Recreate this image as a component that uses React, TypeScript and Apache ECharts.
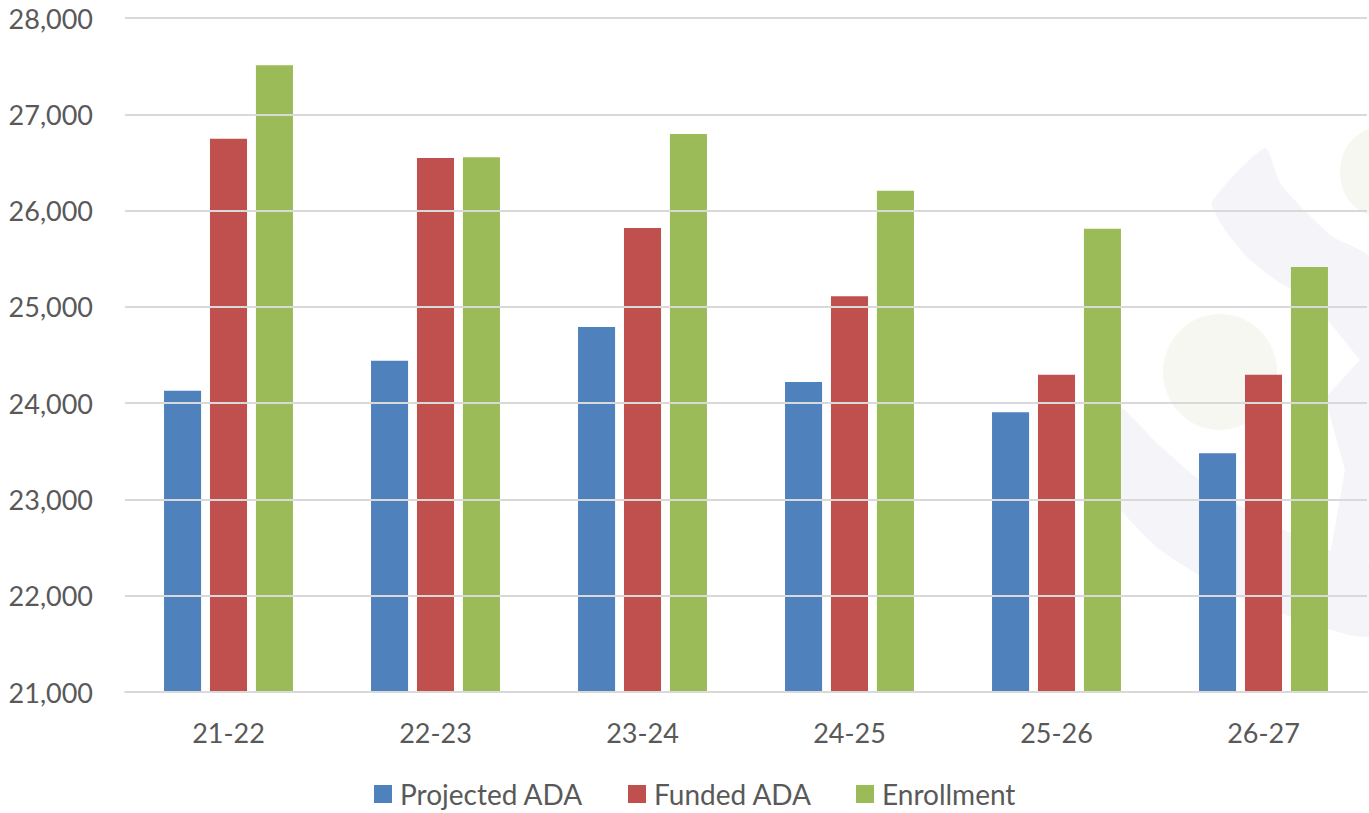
import React, { useEffect, useRef } from "react";
import * as echarts from "echarts";

const categories = ["21-22", "22-23", "23-24", "24-25", "25-26", "26-27"];
const projectedADA = [24130, 24440, 24790, 24220, 23905, 23480];
const fundedADA = [26745, 26545, 25820, 25110, 24295, 24295];
const enrollment = [27510, 26555, 26795, 26205, 25810, 25415];
const seriesNames = ["Projected ADA", "Funded ADA", "Enrollment"];
const yMin = 21000;
const yMax = 28000;
const yStep = 1000;

const FONT = "Lato, 'Open Sans', sans-serif";
const TEXT = "#595959";
const LAV = "#f5f4f9";
const GRN = "#f6f7f0";
const COLORS = ["#4F81BD", "#C0504D", "#9BBB59"];
const legendLefts = [374, 628, 856];

export default function App() {
  const ref = useRef<HTMLDivElement>(null);
  useEffect(() => {
    document.body.style.margin = "0";
    const chart = echarts.init(ref.current!, null, { renderer: "svg" });
    const values = [projectedADA, fundedADA, enrollment];
    chart.setOption({
      animation: false,
      backgroundColor: "#ffffff",
      textStyle: { fontFamily: FONT },
      graphic: [
        {
          type: "polygon",
          z: -10,
          silent: true,
          shape: {
            smooth: 0.2,
            points: [
              [1265, 148],
              [1280, 183],
              [1307, 213],
              [1333, 237],
              [1369, 257],
              [1369, 330],
              [1340, 315],
              [1313, 300],
              [1280, 283],
              [1247, 257],
              [1223, 227],
              [1212, 202],
            ],
          },
          style: { fill: LAV },
        },
        {
          type: "polygon",
          z: -10,
          silent: true,
          shape: {
            points: [
              [1310, 298],
              [1369, 322],
              [1369, 560],
              [1330, 555],
              [1345, 470],
              [1325, 398],
              [1360, 360],
            ],
          },
          style: { fill: LAV },
        },
        {
          type: "polygon",
          z: -10,
          silent: true,
          shape: {
            smooth: 0.2,
            points: [
              [1115, 404],
              [1160, 446],
              [1200, 480],
              [1268, 522],
              [1333, 552],
              [1369, 562],
              [1369, 636],
              [1300, 620],
              [1233, 594],
              [1160, 550],
              [1117, 505],
              [1105, 470],
            ],
          },
          style: { fill: LAV },
        },
        {
          type: "ellipse",
          z: -9,
          silent: true,
          shape: { cx: 1220, cy: 372, rx: 57, ry: 58 },
          style: { fill: GRN },
        },
        {
          type: "ellipse",
          z: -9,
          silent: true,
          shape: { cx: 1378, cy: 172, rx: 38, ry: 44 },
          style: { fill: GRN },
        },
      ],
      grid: { left: 125, right: 2, top: 18, bottom: 121, containLabel: false },
      legend: seriesNames.map((n, i) => ({
        left: legendLefts[i],
        top: 780,
        padding: 0,
        itemWidth: 18,
        itemHeight: 18,
        icon: "rect",
        textStyle: {
          color: TEXT,
          fontSize: 28,
          fontFamily: FONT,
          padding: [0, 0, 0, 3],
        },
        data: [n],
      })),
      xAxis: {
        type: "category",
        data: categories,
        axisLine: { show: true, lineStyle: { color: "#d9d9d9", width: 2 } },
        axisTick: { show: false },
        axisLabel: { color: TEXT, fontSize: 27, margin: 27, fontFamily: FONT },
      },
      yAxis: {
        type: "value",
        min: yMin,
        max: yMax,
        interval: yStep,
        z: 5,
        axisLine: { show: false },
        axisTick: { show: false },
        splitLine: { lineStyle: { color: "#d9d9d9", width: 2 } },
        axisLabel: {
          color: TEXT,
          fontSize: 27,
          margin: 32,
          fontFamily: FONT,
          formatter: (v: number) => v.toLocaleString("en-US"),
        },
      },
      series: seriesNames.map((n, i) => ({
        name: n,
        type: "bar",
        data: values[i],
        barWidth: "17.9%",
        barGap: "24%",
        itemStyle: { color: COLORS[i] },
      })),
    });
    return () => chart.dispose();
  }, []);
  return <div ref={ref} style={{ width: 1369, height: 813 }} />;
}
